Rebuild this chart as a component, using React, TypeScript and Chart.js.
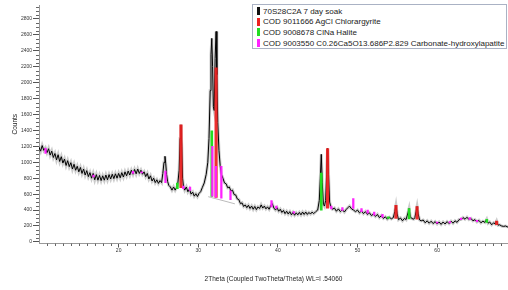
import { useEffect, useRef } from "react";
import { Chart, registerables } from "chart.js";

Chart.register(...registerables);

// Measured scan: [2Theta, Counts]
const scan: [number, number][] = [
  [10.0, 1190], [10.2, 1140], [10.4, 1210], [10.6, 1150], [10.8, 1180], [11.0, 1120], [11.2, 1170], [11.4, 1090],
  [11.6, 1140], [11.8, 1060], [12.0, 1110], [12.2, 1030], [12.4, 1095], [12.6, 1010], [12.8, 1070], [13.0, 990],
  [13.2, 1040], [13.4, 960], [13.6, 1020], [13.8, 945], [14.0, 995], [14.2, 915], [14.4, 975], [14.6, 900],
  [14.8, 950], [15.0, 880], [15.2, 935], [15.4, 860], [15.6, 915], [15.8, 840], [16.0, 895], [16.2, 820],
  [16.4, 870], [16.6, 800], [16.8, 860], [17.0, 780], [17.2, 845], [17.4, 775], [17.6, 835], [17.8, 770],
  [18.0, 830], [18.2, 775], [18.4, 840], [18.6, 780], [18.8, 845], [19.0, 790], [19.2, 850], [19.4, 795],
  [19.6, 855], [19.8, 800], [20.0, 860], [20.2, 805], [20.4, 870], [20.6, 815], [20.8, 880], [21.0, 830],
  [21.2, 890], [21.4, 840], [21.6, 900], [21.8, 850], [22.0, 910], [22.2, 855], [22.4, 915], [22.6, 860],
  [22.8, 900], [23.0, 850], [23.2, 880], [23.4, 820], [23.6, 860], [23.8, 790], [24.0, 830], [24.2, 765],
  [24.4, 800], [24.6, 745], [24.8, 780], [25.0, 735], [25.2, 770], [25.4, 745], [25.55, 860], [25.7, 1000],
  [25.82, 1075], [25.92, 980], [26.02, 850], [26.15, 760], [26.3, 710], [26.5, 690], [26.7, 650], [26.9, 690],
  [27.1, 650], [27.25, 680], [27.4, 700], [27.6, 900], [27.72, 1300], [27.83, 1470], [27.93, 1200], [28.03, 800],
  [28.15, 690], [28.3, 650], [28.5, 690], [28.7, 630], [28.9, 665], [29.1, 600], [29.3, 625], [29.5, 575],
  [29.7, 605], [29.9, 570], [30.1, 610], [30.3, 630], [30.5, 680], [30.75, 740], [31.0, 850], [31.2, 1000],
  [31.35, 1300], [31.5, 1900], [31.6, 2350], [31.7, 2556], [31.8, 2200], [31.9, 1700], [32.0, 1650], [32.12, 2300],
  [32.24, 2643], [32.34, 2100], [32.45, 1500], [32.6, 1150], [32.75, 960], [32.9, 850], [33.1, 800], [33.3, 740],
  [33.5, 730], [33.7, 680], [33.9, 690], [34.1, 640], [34.3, 650], [34.5, 595], [34.7, 590], [34.9, 540],
  [35.1, 530], [35.3, 480], [35.5, 490], [35.7, 445], [35.9, 465], [36.1, 430], [36.3, 460], [36.5, 420],
  [36.7, 450], [36.9, 410], [37.1, 445], [37.3, 405], [37.5, 440], [37.7, 420], [37.9, 465], [38.1, 425],
  [38.3, 450], [38.5, 415], [38.7, 440], [38.9, 410], [39.1, 455], [39.3, 480], [39.5, 425], [39.7, 400],
  [39.9, 430], [40.1, 385], [40.3, 410], [40.5, 370], [40.7, 395], [40.9, 355], [41.1, 385], [41.3, 350],
  [41.5, 380], [41.7, 340], [41.9, 370], [42.1, 335], [42.3, 365], [42.5, 340], [42.7, 370], [42.9, 340],
  [43.1, 375], [43.3, 345], [43.5, 375], [43.7, 345], [43.9, 370], [44.1, 350], [44.3, 375], [44.5, 355],
  [44.75, 380], [45.0, 400], [45.2, 520], [45.33, 800], [45.45, 1100], [45.57, 750], [45.72, 470], [45.85, 450],
  [46.0, 520], [46.12, 850], [46.24, 1173], [46.36, 850], [46.5, 500], [46.65, 440], [46.85, 410], [47.1, 425],
  [47.35, 385], [47.6, 415], [47.85, 380], [48.1, 405], [48.35, 375], [48.6, 410], [48.8, 430], [49.0, 450],
  [49.25, 415], [49.5, 400], [49.75, 380], [50.0, 400], [50.25, 365], [50.5, 390], [50.75, 355], [51.0, 380],
  [51.25, 345], [51.5, 365], [51.75, 330], [52.0, 350], [52.25, 320], [52.5, 345], [52.75, 305], [53.0, 330],
  [53.25, 295], [53.5, 315], [53.75, 285], [54.0, 310], [54.25, 290], [54.5, 305], [54.68, 380], [54.83, 460],
  [54.98, 350], [55.15, 280], [55.4, 300], [55.65, 265], [55.9, 295], [56.1, 280], [56.35, 370], [56.48, 420],
  [56.62, 320], [56.8, 295], [57.05, 285], [57.2, 305], [57.35, 380], [57.48, 445], [57.62, 350], [57.8, 275],
  [58.0, 265], [58.25, 275], [58.5, 240], [58.75, 265], [59.0, 235], [59.25, 260], [59.5, 230], [59.75, 255],
  [60.0, 225], [60.25, 250], [60.5, 220], [60.75, 250], [61.0, 225], [61.25, 255], [61.5, 230], [61.75, 260],
  [62.0, 235], [62.25, 265], [62.5, 245], [62.75, 280], [63.0, 280], [63.25, 305], [63.5, 285], [63.75, 310],
  [64.0, 280], [64.25, 295], [64.5, 265], [64.75, 280], [65.0, 250], [65.25, 270], [65.5, 240], [65.75, 260],
  [66.0, 245], [66.23, 285], [66.4, 235], [66.6, 250], [66.85, 215], [67.1, 240], [67.3, 225], [67.47, 262],
  [67.65, 210], [67.85, 215], [68.1, 200], [68.35, 195], [68.6, 200], [68.9, 185],
];

// Background under the main peak group
const backgroundLine: [number, number][] = [[31.25, 568], [34.6, 478]];

// Reference patterns: [2Theta, from, to]
const agclSticks: [number, number, number][] = [
  [27.83, 680, 1470], [32.24, 560, 2186], [46.24, 425, 1173], [54.83, 295, 460], [57.48, 285, 445], [67.47, 215, 262],
];
const naclSticks: [number, number, number][] = [
  [27.37, 670, 740], [31.7, 572, 1395], [45.45, 400, 865], [53.87, 295, 315], [56.48, 290, 420], [66.23, 245, 285],
];
const apatiteSticks: [number, number, number][] = [
  [10.82, 1110, 1175], [16.84, 815, 840], [21.8, 860, 885], [22.9, 865, 880], [25.88, 745, 890], [28.13, 670, 700],
  [28.97, 645, 690], [31.77, 575, 1200], [32.2, 562, 950], [32.9, 550, 950], [34.05, 530, 640], [39.2, 440, 520],
  [39.8, 420, 450], [42.0, 360, 380], [46.71, 415, 450], [48.1, 395, 430], [49.47, 420, 543], [50.5, 380, 420],
  [51.28, 360, 400], [52.1, 335, 375], [53.14, 310, 345], [60.0, 235, 250], [61.6, 240, 255], [63.0, 280, 300],
  [64.1, 280, 305], [65.0, 255, 270],
];

const legendLabels = [
  "70S28C2A 7 day soak",
  "COD 9011666 AgCl Chlorargyrite",
  "COD 9008678 ClNa Halite",
  "COD 9003550 C0.26Ca5O13.686P2.829 Carbonate-hydroxylapatite",
];
const legendColors = ["#111111", "#ee2222", "#22dd22", "#ff22ff"];
const xTickLabels = [20, 30, 40, 50, 60];
const yTickLabels = [0, 200, 400, 600, 800, 1000, 1200, 1400, 1600, 1800, 2000, 2200, 2400, 2600, 2800];

const FONT = "'Liberation Sans', Arial, sans-serif";

const minorTicks = {
  id: "minorTicks",
  afterDraw(chart: any) {
    const { ctx, scales } = chart;
    const x = scales.x;
    const y = scales.y;
    ctx.save();
    ctx.strokeStyle = "#666";
    ctx.lineWidth = 1;
    ctx.beginPath();
    for (let v = Math.ceil(x.min); v <= x.max; v += 1) {
      if (v % 10 === 0) continue;
      const px = Math.round(x.getPixelForValue(v)) + 0.5;
      ctx.moveTo(px, x.top);
      ctx.lineTo(px, x.top + 2.5);
    }
    for (let v = 0; v <= y.max; v += 50) {
      if (v % 200 === 0) continue;
      const py = Math.round(y.getPixelForValue(v)) + 0.5;
      ctx.moveTo(y.right - 3, py);
      ctx.lineTo(y.right, py);
    }
    ctx.stroke();
    ctx.restore();
  },
};

function sticks(list: [number, number, number][]) {
  return list.map(([x, a, b]) => ({ x, y: [a, b] }));
}

export default function App() {
  const canvasRef = useRef<HTMLCanvasElement | null>(null);

  useEffect(() => {
    document.body.style.margin = "0";
    const canvas = canvasRef.current;
    if (!canvas) return;
    const pts = scan.map(([x, y]) => ({ x, y }));
    const chart = new Chart(canvas, {
      type: "line",
      data: {
        datasets: [
          {
            type: "bar",
            label: legendLabels[3],
            data: sticks(apatiteSticks) as any,
            backgroundColor: legendColors[3],
            barThickness: 1.6,
            grouped: false,
            order: 0,
          } as any,
          {
            type: "bar",
            label: legendLabels[1],
            data: sticks(agclSticks) as any,
            backgroundColor: "rgba(235,30,30,0.92)",
            barThickness: 2.5,
            grouped: false,
            order: 1,
          } as any,
          {
            type: "bar",
            label: legendLabels[2],
            data: sticks(naclSticks) as any,
            backgroundColor: legendColors[2],
            barThickness: 2,
            grouped: false,
            order: 2,
          } as any,
          {
            label: legendLabels[0],
            data: pts,
            borderColor: "#000",
            borderWidth: 1,
            pointRadius: 0,
            tension: 0,
            order: 3,
          },
          {
            label: "halo",
            data: pts,
            borderColor: "rgba(0,0,0,0.2)",
            borderWidth: 3,
            pointRadius: 0,
            tension: 0,
            order: 4,
          },
          {
            label: "background",
            data: backgroundLine.map(([x, y]) => ({ x, y })),
            borderColor: "#bbbbbb",
            borderWidth: 1,
            pointRadius: 0,
            order: 5,
          },
        ],
      },
      options: {
        animation: false,
        responsive: true,
        maintainAspectRatio: false,
        layout: { padding: { top: 5, right: 0, left: 0, bottom: 0 } },
        plugins: { legend: { display: false }, tooltip: { enabled: false } },
        scales: {
          x: {
            type: "linear",
            min: 10,
            max: 68.9,
            offset: false,
            afterFit: (s: any) => {
              s.height = 46.5;
            },
            afterBuildTicks: (s: any) => {
              s.ticks = xTickLabels.map((v) => ({ value: v }));
            },
            border: { display: true, color: "#999", width: 1 },
            grid: { offset: false, drawOnChartArea: false, drawTicks: true, tickLength: 4, color: "#555" },
            ticks: {
              autoSkip: false,
              maxRotation: 0,
              padding: 0,
              color: "#333",
              font: { family: FONT, size: 5 },
              callback: (v: any) => String(v),
            },
            title: {
              display: true,
              text: "2Theta (Coupled TwoTheta/Theta) WL=l .54060",
              color: "#222",
              font: { family: FONT, size: 6.5 },
              padding: { top: 0, bottom: 7 },
            },
          },
          y: {
            type: "linear",
            min: -20,
            max: 2975,
            afterFit: (s: any) => {
              s.width = 39;
            },
            afterBuildTicks: (s: any) => {
              s.ticks = yTickLabels.map((v) => ({ value: v }));
            },
            border: { display: true, color: "#999", width: 1 },
            grid: { drawOnChartArea: false, drawTicks: true, tickLength: 6, color: "#555" },
            ticks: {
              autoSkip: false,
              padding: 1,
              color: "#333",
              font: { family: FONT, size: 5 },
              callback: (v: any) => String(v),
            },
            title: {
              display: true,
              text: "Counts",
              color: "#222",
              font: { family: FONT, size: 6.5 },
              padding: { top: 11, bottom: 0 },
            },
          },
        },
      },
      plugins: [minorTicks],
    });
    return () => chart.destroy();
  }, []);

  return (
    <div style={{ position: "relative", width: 508, height: 290, background: "#fff" }}>
      <canvas ref={canvasRef} />
      <div
        style={{
          position: "absolute",
          left: 252,
          top: 4,
          width: 255,
          height: 45,
          boxSizing: "border-box",
          border: "1px solid #aab2c4",
          background: "#fff",
          fontFamily: FONT,
          fontSize: 8,
          color: "#222",
          padding: "1px 0 0 4px",
        }}
      >
        {legendLabels.map((label, i) => (
          <div key={label} style={{ display: "flex", alignItems: "center", height: 10.6, whiteSpace: "nowrap" }}>
            <span
              style={{
                display: "inline-block",
                width: 3,
                height: 8,
                background: legendColors[i],
                marginRight: 3,
                flex: "none",
              }}
            />
            <span>{label}</span>
          </div>
        ))}
      </div>
    </div>
  );
}
